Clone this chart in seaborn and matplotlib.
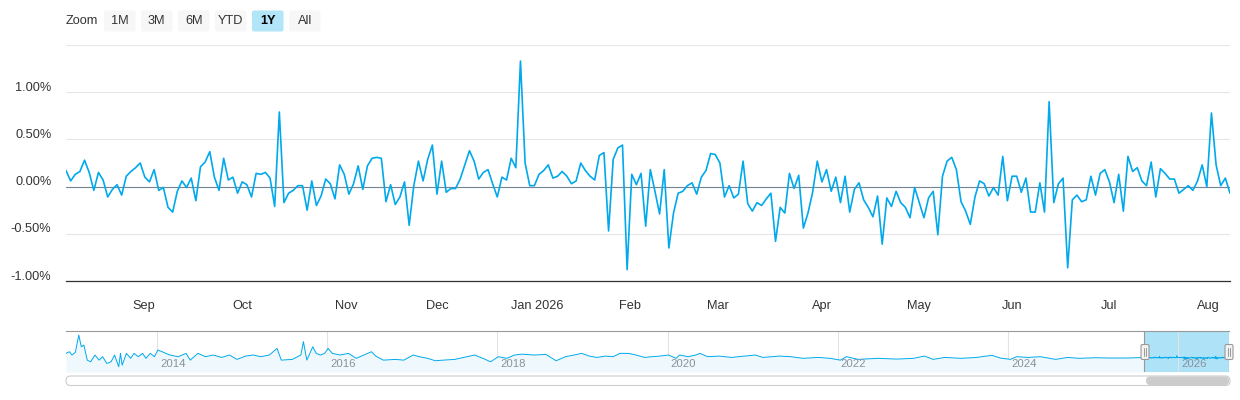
import numpy as np
import pandas as pd
import seaborn as sns
import matplotlib.pyplot as plt
from matplotlib.patches import FancyBboxPatch
from matplotlib.transforms import Affine2D, ScaledTranslation

# 日变化 (%)，按月分组，2025-08-07 到 2026-08-07 的交易日
aug_2025 = [0.17, 0.06, 0.13, 0.16, 0.28, 0.15, -0.04, 0.15, 0.07, -0.11, -0.03, 0.02, -0.09, 0.11, 0.16, 0.20, 0.25]
sep_2025 = [0.10, 0.05, 0.18, -0.04, -0.01, -0.22, -0.27, -0.05, 0.06, -0.01, 0.09, -0.15, 0.21, 0.26, 0.37, 0.10,
            -0.04, 0.30, 0.07, 0.10, -0.07]
oct_2025 = [0.05, 0.02, -0.11, 0.14, 0.13, 0.15, 0.09, -0.21, 0.79, -0.17, -0.07, -0.04, 0.01, 0.01, -0.25, 0.06,
            -0.20, -0.10, 0.08, 0.03, -0.13, 0.23, 0.13]
nov_2025 = [-0.08, 0.03, 0.22, -0.03, 0.22, 0.30, 0.31, 0.30, -0.16, 0.02, -0.19, -0.11, 0.05, -0.41, 0.01, 0.27,
            0.06, 0.29, 0.44]
dec_2025 = [-0.08, 0.27, -0.06, -0.02, -0.02, 0.08, 0.23, 0.38, 0.27, 0.08, 0.15, 0.18, 0.03, -0.11, 0.10, 0.07,
            0.30, 0.20, 1.33, 0.25, 0.01, 0.01]
jan_2026 = [0.13, 0.17, 0.23, 0.09, 0.11, 0.16, 0.11, 0.03, 0.06, 0.25, 0.17, 0.11, 0.07, 0.33, 0.36, -0.47, 0.29,
            0.41, 0.44, -0.88]
feb_2026 = [0.13, 0.02, 0.14, -0.42, 0.18, -0.05, -0.29, 0.18, -0.65, -0.28, -0.07, -0.05, 0.01, 0.04, -0.08, 0.10,
            0.17, 0.35, 0.34]
mar_2026 = [0.25, -0.11, 0.01, -0.12, -0.08, 0.27, -0.18, -0.26, -0.17, -0.20, -0.13, -0.07, -0.58, -0.22, -0.28,
            0.14, -0.02, 0.12, -0.44, -0.28, -0.06, 0.27]
apr_2026 = [0.05, 0.18, -0.05, 0.10, -0.17, 0.11, -0.27, -0.03, 0.04, -0.14, -0.22, -0.32, -0.10, -0.61, -0.12,
            -0.21, -0.05, -0.17, -0.22, -0.33, -0.01]
may_2026 = [-0.17, -0.33, -0.12, -0.05, -0.51, 0.11, 0.27, 0.31, 0.18, -0.16, -0.26, -0.40, -0.11, 0.06, 0.03,
            -0.10, -0.01, -0.09, 0.32, -0.15]
jun_2026 = [0.11, 0.11, -0.06, 0.09, -0.27, -0.27, 0.04, -0.27, 0.90, -0.17, 0.03, 0.09, -0.86, -0.14, -0.09,
            -0.16, -0.14, 0.11, -0.09, 0.14, 0.18]
jul_2026 = [0.05, -0.17, 0.13, -0.26, 0.32, 0.16, 0.20, 0.06, 0.01, 0.26, -0.11, 0.19, 0.14, 0.08, 0.08, -0.07,
            -0.03, 0.01, -0.04, 0.06, 0.23, 0.00]
aug_2026 = [0.78, 0.23, 0.01, 0.09, -0.07]

# 休市日
holidays = ['2025-09-01', '2025-11-27', '2025-12-25', '2026-01-01', '2026-01-19', '2026-02-16',
            '2026-04-03', '2026-05-25', '2026-06-19', '2026-07-03']

month_labels = ['Sep', 'Oct', 'Nov', 'Dec', 'Jan 2026', 'Feb', 'Mar', 'Apr', 'May', 'Jun', 'Jul', 'Aug']
y_ticks = [-1.0, -0.5, 0.0, 0.5, 1.0, 1.5]
y_labels = ['-1.00%', '-0.50%', '0.00%', '0.50%', '1.00%', '']

# 导航条里的历史走势（粗略读取）
nav_years = [2012.93, 2012.97, 2013.00, 2013.04, 2013.08, 2013.11, 2013.14, 2013.18, 2013.22, 2013.27, 2013.32,
             2013.36, 2013.41, 2013.46, 2013.50, 2013.55, 2013.57, 2013.59, 2013.64, 2013.69, 2013.73, 2013.78,
             2013.83, 2013.87, 2013.92, 2013.97, 2014.01, 2014.06, 2014.15, 2014.25, 2014.34, 2014.39, 2014.48,
             2014.57, 2014.66, 2014.76, 2014.85, 2014.94, 2015.04, 2015.13, 2015.22, 2015.32, 2015.41, 2015.46,
             2015.59, 2015.69, 2015.72, 2015.76, 2015.83, 2015.87, 2015.92, 2015.97, 2016.01, 2016.06, 2016.15,
             2016.25, 2016.34, 2016.43, 2016.52, 2016.57, 2016.66, 2016.80, 2016.90, 2017.01, 2017.08, 2017.18,
             2017.27, 2017.36, 2017.50, 2017.64, 2017.73, 2017.83, 2017.92, 2018.01, 2018.11, 2018.20, 2018.29,
             2018.43, 2018.57, 2018.69, 2018.80, 2018.90, 2018.99, 2019.08, 2019.17, 2019.27, 2019.36, 2019.44,
             2019.54, 2019.63, 2019.73, 2019.82, 2019.91, 2020.01, 2020.10, 2020.14, 2020.24, 2020.33, 2020.38,
             2020.47, 2020.61, 2020.75, 2020.84, 2021.03, 2021.12, 2021.31, 2021.45, 2021.59, 2021.77, 2021.91,
             2022.03, 2022.10, 2022.24, 2022.47, 2022.70, 2022.89, 2023.02, 2023.12, 2023.26, 2023.45, 2023.63,
             2023.81, 2023.91, 2024.03, 2024.10, 2024.24, 2024.38, 2024.56, 2024.70, 2024.84, 2025.03, 2025.21,
             2025.40]
nav_values = [2.9, 4.0, 1.8, 3.6, 15.1, 7.3, 8.4, -1.6, -2.7, 1.8, -1.6, 0.7, -3.8, -2.7, 1.8, -6.0, 2.9, -4.9,
              2.9, -0.4, 2.9, 0.7, 2.9, -0.4, 2.9, 0.7, 5.1, 4.0, 1.8, 0.7, 2.9, -1.6, 2.9, 0.7, 1.8, 0.2, 1.8,
              -1.1, 1.1, 1.8, 0.7, 1.8, 6.2, -1.6, -1.1, 1.8, 10.7, -1.6, 7.3, 2.9, 1.8, 2.9, 6.2, 2.9, 1.8, 2.9,
              -0.4, 1.8, 4.0, 1.1, -1.6, -1.1, -1.6, 1.8, 0.7, -0.4, -2.0, -1.6, -1.1, 0.7, 1.8, -0.4, -2.7, 0.7,
              -0.4, 1.8, 2.4, 1.8, 2.2, -2.0, 0.7, 1.8, 2.9, 1.1, 0.2, 1.1, 0.7, 2.9, 2.9, 1.8, 0.2, 0.7, 1.1,
              1.8, -0.4, 1.8, 0.7, 1.8, 2.9, 0.7, 1.1, 0.2, 0.7, 1.8, 0.2, 1.1, 0.7, -0.4, 0.2, -0.4, -1.6, 0.7,
              -1.1, -0.4, -0.9, -0.4, 1.1, -1.1, 0.2, -0.4, 0.2, 1.6, -0.2, -1.1, 0.7, 0.2, 0.7, -1.1, 0.2, -0.4,
              0.0, -0.2, -0.2]
nav_year_ticks = [2014, 2016, 2018, 2020, 2022, 2024, 2026]

zoom_buttons = ['1M', '3M', '6M', 'YTD', '1Y', 'All']
selected_button = '1Y'

LINE = '#00a9ec'
W, H = 1240, 400

sns.set_style('white')
plt.rcParams['font.family'] = ['Liberation Sans', 'DejaVu Sans']

values = (aug_2025 + sep_2025 + oct_2025 + nov_2025 + dec_2025 + jan_2026 + feb_2026 + mar_2026
          + apr_2026 + may_2026 + jun_2026 + jul_2026 + aug_2026)
dates = pd.bdate_range('2025-08-07', '2026-08-07')
dates = dates[~dates.isin(pd.to_datetime(holidays))]
assert len(dates) == len(values)
assert len(nav_years) == len(nav_values)

df = pd.DataFrame({'idx': np.arange(len(values)), 'change': values})


def px_box(x0, y0, x1, y1):
    return [x0 / W, 1 - y1 / H, (x1 - x0) / W, (y1 - y0) / H]


fig = plt.figure(figsize=(W / 100, H / 100), dpi=100)
pix = Affine2D().scale(1 / W, -1 / H).translate(0, 1) + fig.transFigure

# 主图
ax = fig.add_axes(px_box(66, 45, 1230, 281))
ax.axhline(0, color='#768596', lw=0.8, zorder=2)
sns.lineplot(data=df, x='idx', y='change', ax=ax, color=LINE, lw=1.2, zorder=3)
ax.set_xlim(0, len(values) - 1)
ax.set_ylim(-1.0, 1.5)
ax.set_xlabel('')
ax.set_ylabel('')

ax.set_yticks(y_ticks)
ax.set_yticklabels(y_labels)
ax.yaxis.grid(True, color='#e6e6e6', lw=0.8)
ax.tick_params(axis='y', length=0, pad=10.5, labelsize=9.2, labelcolor='#333333')
for lbl in ax.get_yticklabels():
    lbl.set_transform(lbl.get_transform() + ScaledTranslation(0, 6 / 100, fig.dpi_scale_trans))

month_starts = pd.date_range('2025-09-01', '2026-08-01', freq='MS')
tick_pos = np.interp(month_starts.asi8, dates.asi8, df['idx'].values)
ax.set_xticks(tick_pos)
ax.set_xticklabels(month_labels)
ax.tick_params(axis='x', direction='out', length=4, width=0.8, color='#333333', pad=10,
               labelsize=9.2, labelcolor='#333333')
for s in ['top', 'left', 'right']:
    ax.spines[s].set_visible(False)
ax.spines['bottom'].set_color('#333333')
ax.spines['bottom'].set_linewidth(0.9)

# 导航条
year_recent = dates.year + (dates.dayofyear - 1) / 365.0
nav_df = pd.concat([pd.DataFrame({'year': nav_years, 'change': nav_values}),
                    pd.DataFrame({'year': np.asarray(year_recent), 'change': values})], ignore_index=True)
nav_lo, nav_hi = -9.5, 17.8
nav = fig.add_axes(px_box(66, 331, 1229, 372))
nav.set_xlim(2012.93, year_recent[-1])
nav.set_ylim(nav_lo, nav_hi)
nav.fill_between(nav_df['year'], nav_df['change'], nav_lo, color='#eef8fd', lw=0, zorder=1)
nav.axvspan(year_recent[0], year_recent[-1], color='#aee2f6', lw=0, zorder=1.5)
sns.lineplot(data=nav_df, x='year', y='change', ax=nav, color=LINE, lw=0.7, zorder=3)
for yr in nav_year_ticks:
    nav.axvline(yr, color='#e3e3e3', lw=0.8, zorder=0.5 if yr < year_recent[0] else 2)
    nav.text(yr, 0.2, str(yr), transform=nav.get_xaxis_transform(), fontsize=8.2, color='#8a929c',
             ha='left', va='center', zorder=4)
for t in nav.texts:
    t.set_transform(t.get_transform() + ScaledTranslation(3 / 100, 0, fig.dpi_scale_trans))
nav.axvline(year_recent[0], color='#999999', lw=0.8, zorder=4)
nav.axvline(year_recent[-1], color='#999999', lw=0.8, zorder=4)
nav.set_xticks([])
nav.set_yticks([])
nav.set_xlabel('')
nav.set_ylabel('')
for s in ['left', 'right', 'bottom']:
    nav.spines[s].set_visible(False)
nav.spines['top'].set_color('#999999')
nav.spines['top'].set_linewidth(0.8)

# 导航条把手
for hx in [1145, 1229]:
    fig.add_artist(FancyBboxPatch((hx - 4, 344.5), 8, 15, boxstyle='round,pad=0,rounding_size=1.5',
                                  transform=pix, facecolor='#f2f2f2', edgecolor='#999999', lw=0.8, zorder=5))
    for dx in [-1.3, 1.3]:
        fig.add_artist(plt.Line2D([hx + dx, hx + dx], [348, 356], transform=pix, color='#999999', lw=0.7,
                                  zorder=6))

# 滚动条
fig.add_artist(FancyBboxPatch((66, 376), 1164, 9.5, boxstyle='round,pad=0,rounding_size=4.5', transform=pix,
                              facecolor='white', edgecolor='#cccccc', lw=0.8))
fig.add_artist(FancyBboxPatch((1146, 376.5), 83, 8.5, boxstyle='round,pad=0,rounding_size=4.2', transform=pix,
                              facecolor='#cccccc', edgecolor='none'))

# 缩放按钮
fig.text(66 / W, 1 - 21 / H, 'Zoom', fontsize=9.2, color='#333333', ha='left', va='center')
for k, name in enumerate(zoom_buttons):
    x0 = 104 + 37 * k
    sel = name == selected_button
    fig.add_artist(FancyBboxPatch((x0, 10.5), 31.5, 21, boxstyle='round,pad=0,rounding_size=2', transform=pix,
                                  facecolor='#b3e5f8' if sel else '#f7f7f7', edgecolor='none'))
    fig.text((x0 + 15.75) / W, 1 - 21 / H, name, fontsize=9.2, color='#000000' if sel else '#333333',
             fontweight='bold' if sel else 'normal', ha='center', va='center')

fig.savefig('out.png', dpi=100)
